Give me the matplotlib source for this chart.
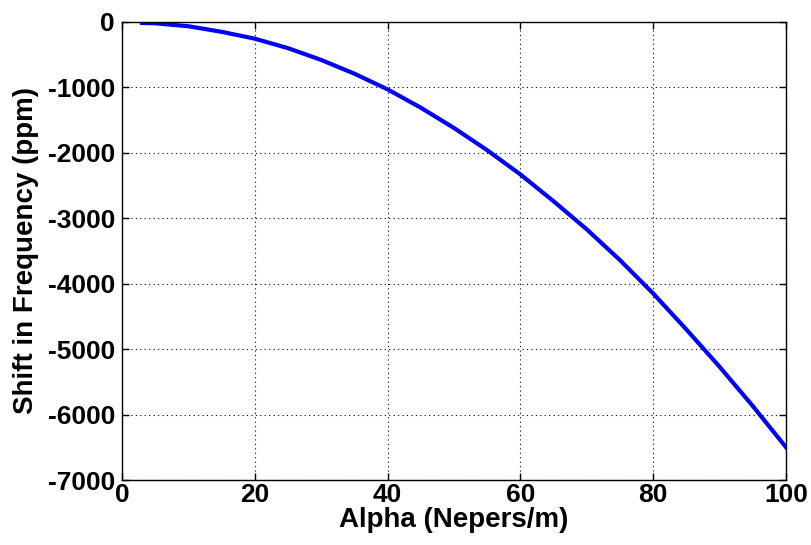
import matplotlib.pyplot as plt

plt.rcParams['font.family'] = ['Liberation Sans', 'DejaVu Sans']
plt.rcParams['font.weight'] = 'bold'
plt.rcParams['axes.unicode_minus'] = False

# attenuation constant vs. frequency shift
alpha = [3, 5, 10, 15, 20, 25, 30, 35, 40, 45, 50, 55, 60, 65, 70, 75, 80, 85, 90, 95, 100]
shift_ppm = [-15, -20, -65, -150, -255, -400, -580, -790, -1030, -1310, -1620, -1960,
             -2330, -2740, -3170, -3640, -4150, -4700, -5270, -5870, -6500]

x_ticks = [0, 20, 40, 60, 80, 100]
y_ticks = [-7000, -6000, -5000, -4000, -3000, -2000, -1000, 0]

fig = plt.figure(figsize=(8.12, 5.45), dpi=100)
ax = fig.add_axes([122 / 812, 65 / 545, 664 / 812, 458 / 545])

ax.plot(alpha, shift_ppm, color='#0000ff', linewidth=3)

ax.set_xlim(0, 100)
ax.set_ylim(-7000, 0)
ax.set_xticks(x_ticks)
ax.set_yticks(y_ticks)
ax.grid(True, linestyle=(0, (1, 3)), color='black', linewidth=0.8)
ax.tick_params(direction='in', top=True, right=True, labelsize=19, length=5, width=1)
ax.tick_params(axis='x', pad=2)
ax.tick_params(axis='y', pad=5)
for lbl in ax.get_xticklabels() + ax.get_yticklabels():
    lbl.set_fontweight('bold')
for sp in ax.spines.values():
    sp.set_linewidth(1)

ax.set_xlabel('Alpha (Nepers/m)', fontsize=20, fontweight='bold', labelpad=0)
ax.set_ylabel('Shift in Frequency (ppm)', fontsize=20, fontweight='bold', labelpad=6)

fig.savefig('out.png', dpi=100)
